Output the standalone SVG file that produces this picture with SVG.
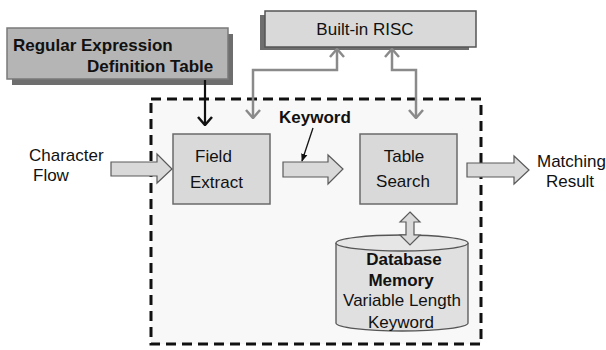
<svg xmlns="http://www.w3.org/2000/svg" width="606" height="350" viewBox="0 0 606 350">
  <style>
    .t { font-family: "Liberation Sans", Arial, sans-serif; font-size: 17px; fill: #111; }
    .b { font-weight: bold; }
    .box { fill: #d9d9d9; stroke: #6a6a6a; stroke-width: 1.5; }
    .blk { fill: #d9d9d9; stroke: #5a5a5a; stroke-width: 1.2; }
    .gl { fill: none; stroke: #8a8a8a; stroke-width: 2.5; }
  </style>
  <defs>
    <marker id="chevGrey" markerUnits="userSpaceOnUse" viewBox="0 0 10 16" markerWidth="10" markerHeight="16" refX="9" refY="8" orient="auto-start-reverse">
      <path d="M1,1 L9,8 L1,15" fill="none" stroke="#8a8a8a" stroke-width="2.5"/>
    </marker>
    <marker id="chevBlack" markerUnits="userSpaceOnUse" viewBox="0 0 10 16" markerWidth="10" markerHeight="16" refX="9" refY="8" orient="auto">
      <path d="M1,1 L9,8 L1,15" fill="none" stroke="#111" stroke-width="2.5"/>
    </marker>
    <marker id="tipSmall" markerUnits="userSpaceOnUse" viewBox="0 0 10 10" markerWidth="8" markerHeight="8" refX="9" refY="5" orient="auto">
      <path d="M0,1 L10,5 L0,9 Z" fill="#111"/>
    </marker>
  </defs>
  <rect width="606" height="350" fill="#ffffff"/>

  <!-- processing unit boundary -->
  <g id="engine">
    <rect x="151" y="99" width="330" height="245" fill="#f8f8f8" stroke="#111" stroke-width="3" stroke-dasharray="10 6"/>
  </g>

  <!-- regular expression definition table -->
  <g id="regex-table">
    <rect x="12" y="34" width="221" height="51" fill="#6e6e6e"/>
    <rect x="7" y="28" width="221" height="51" fill="#b5b5b5" stroke="#7a7a7a" stroke-width="1.5"/>
    <text class="t b" x="13" y="51">Regular Expression</text>
    <text class="t b" x="87" y="72">Definition Table</text>
  </g>

  <!-- built-in RISC -->
  <g id="risc">
    <rect x="260" y="15" width="209" height="35" fill="#6e6e6e"/>
    <rect x="265" y="11" width="211" height="36" fill="#d9d9d9" stroke="#555" stroke-width="1.5"/>
    <text class="t" x="365" y="35" text-anchor="middle">Built-in RISC</text>
  </g>

  <!-- field extract -->
  <g id="field-extract">
    <rect class="box" x="173" y="134" width="97" height="70"/>
    <text class="t" x="195" y="162">Field</text>
    <text class="t" x="190" y="188">Extract</text>
  </g>

  <!-- table search -->
  <g id="table-search">
    <rect class="box" x="360" y="134" width="97" height="70"/>
    <text class="t" x="404" y="162" text-anchor="middle">Table</text>
    <text class="t" x="403" y="187" text-anchor="middle">Search</text>
  </g>

  <!-- database memory cylinder -->
  <g id="database">
    <path d="M336,243 L336,323 A66,8 0 0 0 468,323 L468,243" fill="#e0e0e0" stroke="#555" stroke-width="1.3"/>
    <ellipse cx="402" cy="243" rx="66" ry="8" fill="#e6e6e6" stroke="#555" stroke-width="1.3"/>
    <text class="t b" x="404" y="265" text-anchor="middle">Database</text>
    <text class="t b" x="401" y="286" text-anchor="middle">Memory</text>
    <text class="t" x="402" y="306" text-anchor="middle">Variable Length</text>
    <text class="t" x="401" y="328" text-anchor="middle">Keyword</text>
  </g>

  <!-- outside labels -->
  <g id="input-label">
    <text class="t" x="29" y="161">Character</text>
    <text class="t" x="33" y="181">Flow</text>
  </g>
  <g id="output-label">
    <text class="t" x="537" y="167">Matching</text>
    <text class="t" x="570" y="187" text-anchor="middle">Result</text>
  </g>
  <g id="keyword-label">
    <text class="t b" x="279" y="123">Keyword</text>
  </g>

  <!-- connectors -->
  <g id="connectors">
    <!-- block arrows -->
    <path class="blk" d="M111,162 L157,162 L157,154 L172,169 L157,183 L157,176 L111,176 Z"/>
    <path class="blk" d="M283,162 L328,162 L328,155 L343,169 L328,184 L328,177 L283,177 Z"/>
    <path class="blk" d="M467,163 L514,163 L514,156 L529,170 L514,184 L514,177 L467,177 Z"/>
    <path class="blk" d="M410,212 L420,222 L414,222 L414,235 L420,235 L410,245 L400,235 L406,235 L406,222 L400,222 Z"/>
    <!-- control links from the RISC -->
    <polyline class="gl" points="337,49 337,70 253,70 253,118" marker-start="url(#chevGrey)" marker-end="url(#chevGrey)"/>
    <polyline class="gl" points="392,49 392,70 416,70 416,118" marker-start="url(#chevGrey)" marker-end="url(#chevGrey)"/>
    <!-- definition feed -->
    <line x1="205" y1="80" x2="205" y2="125" stroke="#111" stroke-width="2.2" marker-end="url(#chevBlack)"/>
    <!-- keyword pointer -->
    <line x1="313" y1="128" x2="302" y2="161" stroke="#111" stroke-width="1.3" marker-end="url(#tipSmall)"/>
  </g>
</svg>
